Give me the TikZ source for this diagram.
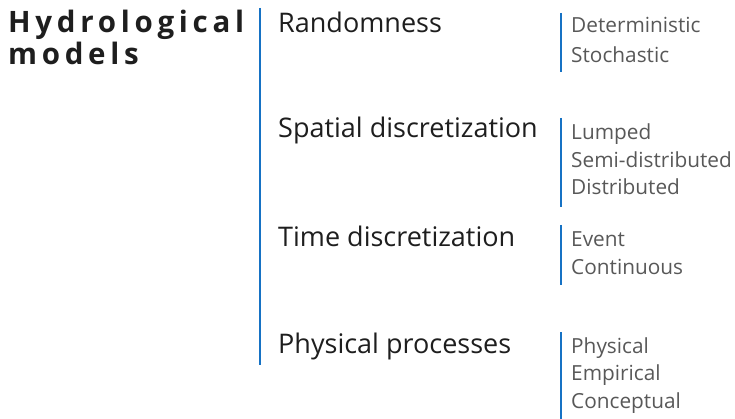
\documentclass[tikz,border=0pt]{standalone}
\usepackage{fontspec}
\setmainfont{Open Sans}
\newfontfamily\titlefont[LetterSpace=16]{Open Sans}
\definecolor{barblue}{RGB}{22,114,196}
\definecolor{headink}{RGB}{30,30,30}
\definecolor{itemink}{RGB}{88,88,88}
\begin{document}
\begin{tikzpicture}[x=1pt,y=-1pt,
  title/.style={anchor=base west,inner sep=0pt,text=headink,
    font=\titlefont\bfseries\fontsize{29.5}{32}\selectfont},
  category/.style={anchor=base west,inner sep=0pt,text=headink,
    font=\fontsize{27}{30}\selectfont},
  item/.style={anchor=base west,inner sep=0pt,text=itemink,
    font=\fontsize{20.8}{24}\selectfont},
  bar/.style={draw=barblue,line width=2.3pt}]
\useasboundingbox (0,0) rectangle (735,419);

% title
\node[title] (t1) at (8,33) {Hydrological};
\node[title] (t2) at (8,65) {models};

% main spine
\coordinate (spineTop) at (260,8);
\coordinate (spineBot) at (260,365);
\draw[bar] (spineTop) -- (spineBot);

% categories
\node[category] (rand) at (278,33) {Randomness};
\node[category] (spat) at (278,138) {Spatial discretization};
\node[category] (time) at (278,247) {Time discretization};
\node[category] (phys) at (278,353) {Physical processes};

% randomness options
\coordinate (b1t) at (561,13);
\coordinate (b1b) at (561,72);
\draw[bar] (b1t) -- (b1b);
\node[item] (det) at (571,33) {Deterministic};
\node[item] (sto) at (571,63) {Stochastic};

% spatial options
\coordinate (b2t) at (561,118);
\coordinate (b2b) at (561,207);
\draw[bar] (b2t) -- (b2b);
\node[item] (lum) at (571,140) {Lumped};
\node[item] (semi) at (571,168) {Semi-distributed};
\node[item] (dist) at (571,195) {Distributed};

% time options
\coordinate (b3t) at (561,225);
\coordinate (b3b) at (561,285);
\draw[bar] (b3t) -- (b3b);
\node[item] (evt) at (571,247) {Event};
\node[item] (cont) at (571,275) {Continuous};

% process options
\coordinate (b4t) at (561,332);
\coordinate (b4b) at (561,419);
\draw[bar] (b4t) -- (b4b);
\node[item] (pphy) at (571,353) {Physical};
\node[item] (emp) at (571,380) {Empirical};
\node[item] (conc) at (571,408) {Conceptual};
\end{tikzpicture}
\end{document}
